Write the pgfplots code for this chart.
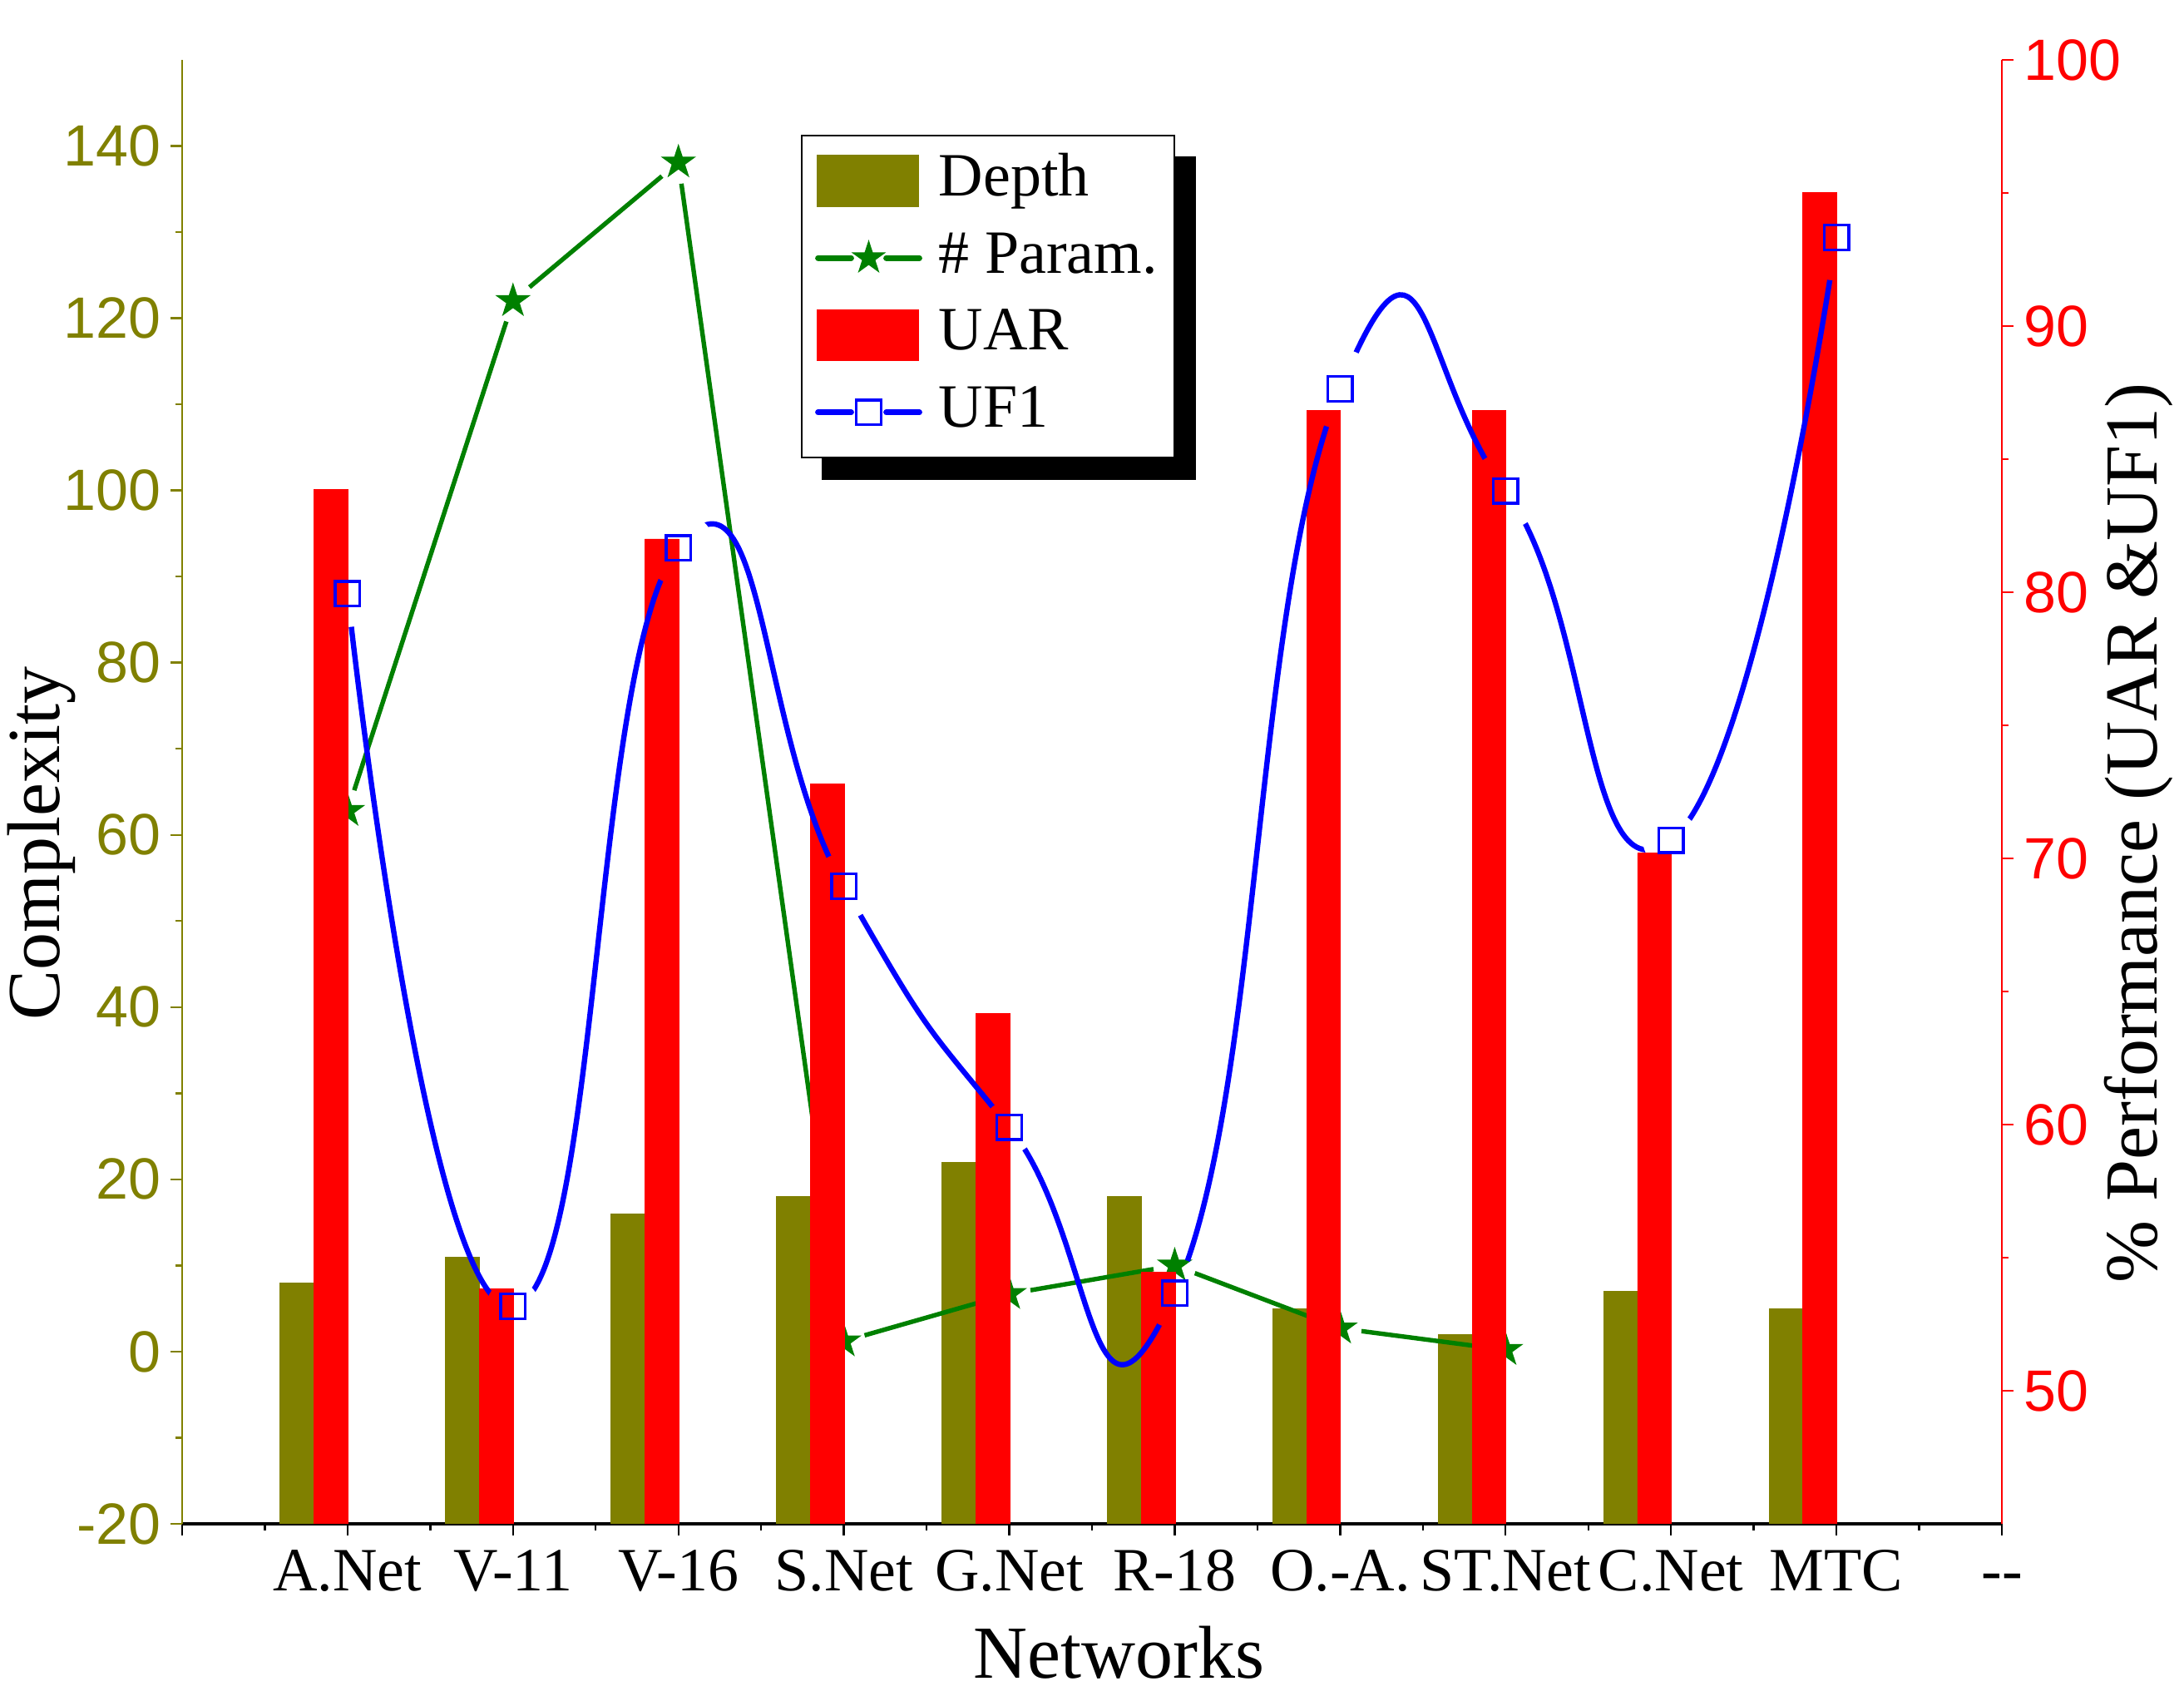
\documentclass[border=0pt]{standalone}
\usepackage{fontspec}
\setmainfont{Liberation Serif}
\setsansfont{Liberation Sans}
\usepackage{pgfplots}
\usepackage{pgfplotstable}
\pgfplotsset{compat=1.18}
\usetikzlibrary{backgrounds}

\definecolor{olivebar}{RGB}{128,128,0}
\definecolor{pgreen}{RGB}{0,128,0}
\definecolor{uarred}{RGB}{255,0,0}
\definecolor{ufblue}{RGB}{0,0,255}

\pgfdeclareplotmark{fstar}{%
 \pgfpathmoveto{\pgfpointpolar{90}{\pgfplotmarksize}}%
 \pgfpathlineto{\pgfpointpolar{126}{0.382*\pgfplotmarksize}}%
 \pgfpathlineto{\pgfpointpolar{162}{\pgfplotmarksize}}%
 \pgfpathlineto{\pgfpointpolar{198}{0.382*\pgfplotmarksize}}%
 \pgfpathlineto{\pgfpointpolar{234}{\pgfplotmarksize}}%
 \pgfpathlineto{\pgfpointpolar{270}{0.382*\pgfplotmarksize}}%
 \pgfpathlineto{\pgfpointpolar{306}{\pgfplotmarksize}}%
 \pgfpathlineto{\pgfpointpolar{342}{0.382*\pgfplotmarksize}}%
 \pgfpathlineto{\pgfpointpolar{18}{\pgfplotmarksize}}%
 \pgfpathlineto{\pgfpointpolar{54}{0.382*\pgfplotmarksize}}%
 \pgfpathclose
 \pgfusepathqfill
}

\pgfplotsset{
  common/.style={
    at={(54.75pt,53.25pt)}, anchor=south west,
    scale only axis, width=547pt, height=440pt,
    xmin=0, xmax=11,
    tick align=outside,
    major tick length=3.5pt, minor tick length=2pt,
    /pgf/number format/assume math mode=true,
    clip=true,
  }
}

% # Param. values (x = network index)
\pgfplotstableread{
x param
1 62.8
2 122.0
3 138.1
4 1.2
5 6.7
6 10.0
7 2.7
8 0.2
}\params

% UF1 values (x = network index)
\pgfplotstableread{
x uf
1 79.94
2 53.17
3 81.66
4 68.95
5 59.9
6 53.66
7 87.64
8 83.81
9 70.68
10 93.33
}\ufone

\begin{document}
\begin{tikzpicture}
\useasboundingbox (0,0) rectangle (656.5pt,511.25pt);

% ---------- left axis: Depth and # Param. ----------
\begin{axis}[common,
  ymin=-20, ymax=150,
  axis x line*=bottom, axis y line*=left,
  x axis line style={black, line width=0.8pt, -},
  y axis line style={olivebar, line width=0.6pt, -},
  xtick={0,1,2,3,4,5,6,7,8,9,10,11},
  xticklabels={,A.Net,V-11,V-16,S.Net,G.Net,R-18,O.-A.,ST.Net,C.Net,MTC,-{}-},
  minor x tick num=1,
  ytick={-20,0,20,40,60,80,100,120,140},
  minor y tick num=1,
  x tick style={black, line width=0.6pt},
  y tick style={olivebar, line width=0.6pt},
  xticklabel style={font=\fontsize{18.5}{20}\selectfont, anchor=base, yshift=-16.75pt, inner sep=0pt},
  yticklabel style={font=\sffamily\fontsize{17.5}{20}\selectfont, text=olivebar, inner sep=0pt, xshift=-2.75pt},
  xlabel={Networks}, ylabel={Complexity},
  every axis x label/.style={at={(axis description cs:0.515,0)}, anchor=base, yshift=-46.5pt, font=\fontsize{22.5}{26}\selectfont},
  every axis y label/.style={at={(axis description cs:-0.0772,0.465)}, anchor=center, rotate=90, font=\fontsize{22.5}{26}\selectfont},
]
\addplot[ybar, bar width=0.205, bar shift=-0.305, fill=olivebar, draw=olivebar, line width=0.2pt, forget plot]
  coordinates {(1,8)(2,11)(3,16)(4,18)(5,22)(6,18)(7,5)(8,2)(9,7)(10,5)};
\addplot[ybar, bar width=0.205, bar shift=-0.305, fill=olivebar, draw=olivebar, line width=0.2pt, forget plot]
  coordinates {(1,-20)(2,-20)(3,-20)(4,-20)(5,-20)(6,-20)(7,-20)(8,-20)(9,-20)(10,-20)};
\begin{scope}[even odd rule]
  \clip (rel axis cs:0,0) rectangle (rel axis cs:1,1)
    (axis cs:1,62.8) circle[radius=6.5pt]
    (axis cs:2,122.0) circle[radius=6.5pt]
    (axis cs:3,138.1) circle[radius=6.5pt]
    (axis cs:4,1.2) circle[radius=6.5pt]
    (axis cs:5,6.7) circle[radius=6.5pt]
    (axis cs:6,10.0) circle[radius=6.5pt]
    (axis cs:7,2.7) circle[radius=6.5pt]
    (axis cs:8,0.2) circle[radius=6.5pt];
  \addplot[pgreen, line width=1.35pt, line cap=round, forget plot] table[x=x, y=param] {\params};
\end{scope}
\addplot[only marks, mark=fstar, mark size=5.6pt, mark options={fill=pgreen, draw=none}, forget plot]
  table[x=x, y=param] {\params};
\end{axis}

% ---------- right axis: UAR and UF1 ----------
\begin{axis}[common,
  ymin=45, ymax=100,
  axis x line=none, axis y line*=right,
  y axis line style={uarred, line width=0.6pt, -},
  ytick={50,60,70,80,90,100},
  minor y tick num=1,
  y tick style={uarred, line width=0.6pt},
  yticklabel style={font=\sffamily\fontsize{17.5}{20}\selectfont, text=uarred, inner sep=0pt, xshift=3pt},
  ylabel={\% Performance (UAR \&UF1)},
  every axis y label/.style={at={(axis description cs:1.075,0.472)}, anchor=center, rotate=90, font=\fontsize{22.5}{26}\selectfont},
  legend cell align=left,
  legend style={
    name=leg,
    at={(axis description cs:0.340,0.949)}, anchor=north west,
    draw=black, line width=0.6pt, fill=white,
    font=\fontsize{18.5}{22}\selectfont,
    inner xsep=4pt, inner ysep=2pt,
    row sep=0pt, column sep=4pt,
    nodes={inner ysep=3.1pt, inner xsep=1pt, text height=13pt, text depth=4pt},
  },
]
\addlegendimage{legend image code/.code={\fill[olivebar] (0pt,-7.5pt) rectangle (30pt,7.5pt);}}
\addlegendentry{Depth}
\addlegendimage{legend image code/.code={%
  \draw[pgreen, line width=1.7pt, line cap=round] (0pt,0pt) -- (10pt,0pt);
  \draw[pgreen, line width=1.7pt, line cap=round] (20.5pt,0pt) -- (30.5pt,0pt);
  \path[fill=pgreen] plot[only marks, mark=fstar, mark size=5.5pt] coordinates {(15.25pt,0pt)};}}
\addlegendentry{\# Param.}
\addlegendimage{legend image code/.code={\fill[uarred] (0pt,-7.5pt) rectangle (30pt,7.5pt);}}
\addlegendentry{UAR}
\addlegendimage{legend image code/.code={%
  \draw[ufblue, line width=1.7pt, line cap=round] (0pt,0pt) -- (10pt,0pt);
  \draw[ufblue, line width=1.7pt, line cap=round] (20.5pt,0pt) -- (30.5pt,0pt);
  \draw[ufblue, line width=0.85pt, fill=white] plot[only marks, mark=square, mark size=3.7pt] coordinates {(15.25pt,0pt)};}}
\addlegendentry{UF1}

\addplot[ybar, bar width=0.205, bar shift=-0.1, fill=uarred, draw=uarred, line width=0.2pt, forget plot]
  coordinates {(1,83.86)(2,53.84)(3,82.0)(4,72.8)(5,64.16)(6,54.45)(7,86.83)(8,86.83)(9,70.2)(10,95.02)};
\begin{scope}[even odd rule]
  \clip (rel axis cs:0,0) rectangle (rel axis cs:1,1)
    (axis cs:1,79.94) circle[radius=10pt]
    (axis cs:2,53.17) circle[radius=8pt]
    (axis cs:3,81.66) circle[radius=11pt]
    (axis cs:4,68.95) circle[radius=10pt]
    (axis cs:5,59.9) circle[radius=8pt]
    (axis cs:6,53.66) circle[radius=10.5pt]
    (axis cs:7,87.64) circle[radius=12pt]
    (axis cs:8,83.81) circle[radius=11.5pt]
    (axis cs:9,70.68) circle[radius=8.5pt]
    (axis cs:10,93.33) circle[radius=13pt];
  \addplot[ufblue, line width=1.6pt, line cap=round, smooth, tension=0.95, forget plot] table[x=x, y=uf] {\ufone};
\end{scope}
\addplot[only marks, mark=square, mark size=3.7pt, mark options={fill=white, draw=ufblue, line width=0.85pt}, forget plot]
  table[x=x, y=uf] {\ufone};
\end{axis}

\begin{scope}[on background layer]
  \fill[black] ([xshift=6.25pt,yshift=-6.5pt]leg.south west) rectangle ([xshift=6.25pt,yshift=-6.5pt]leg.north east);
\end{scope}
\end{tikzpicture}
\end{document}
